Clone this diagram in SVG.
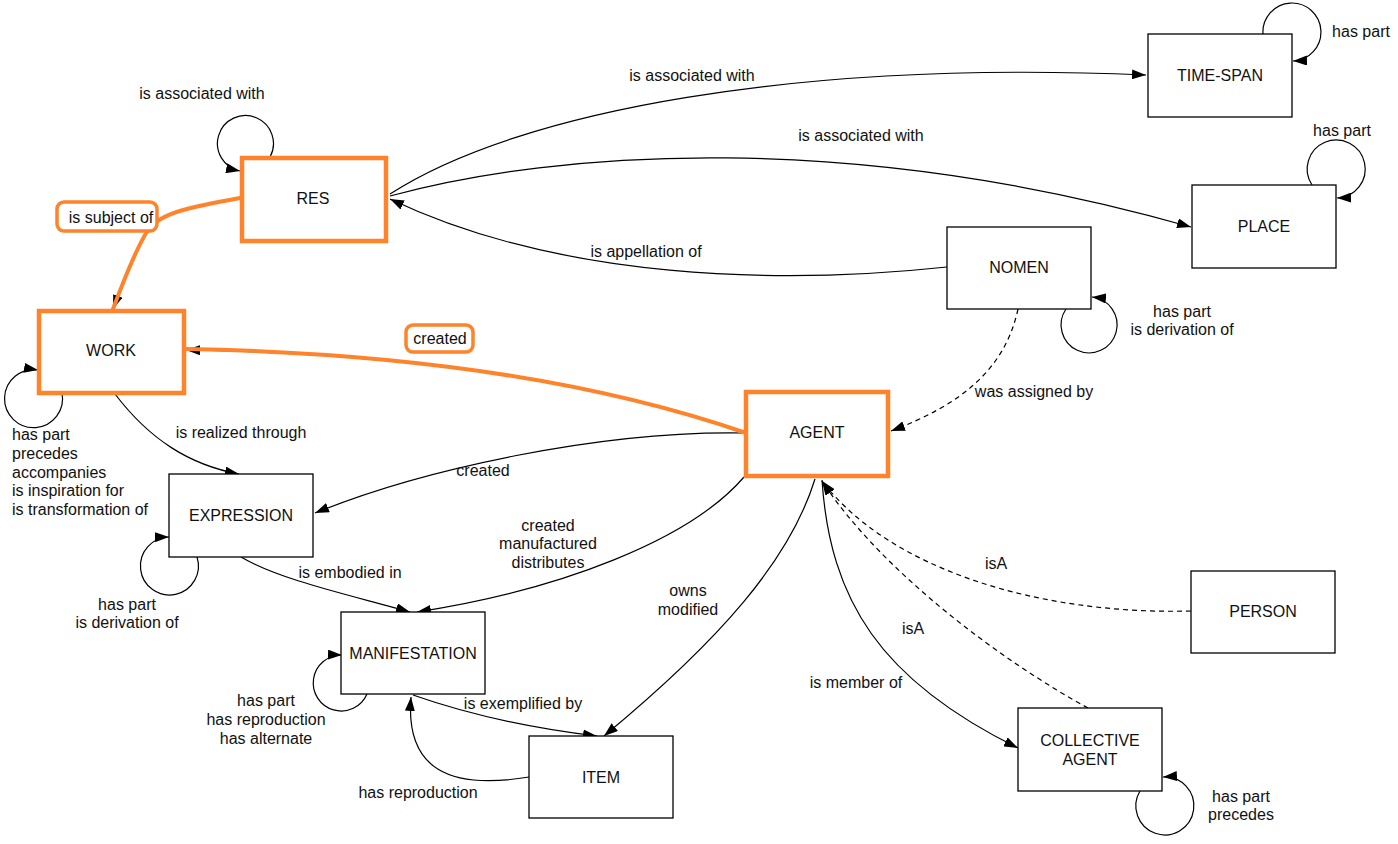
<svg xmlns="http://www.w3.org/2000/svg" width="1398" height="844" viewBox="0 0 1398 844">
<style>
text{font-family:"Liberation Sans",Arial,sans-serif;font-size:16px;fill:#111;text-anchor:middle}
.l{text-anchor:start}
.n{fill:#fff;stroke:#000;stroke-width:1.3}
.o{fill:#fff;stroke:#FF832A;stroke-width:4.5}
.e{fill:none;stroke:#000;stroke-width:1.2;marker-end:url(#arr)}
.d{stroke-dasharray:5,4}
.hl{fill:none;stroke:#FF832A;stroke-width:4;stroke-linecap:round}
.hb{fill:#fff;stroke:#FF832A;stroke-width:3.5}
</style>
<defs>
<marker id="arr" viewBox="0 0 14 10" refX="14" refY="5" markerWidth="14" markerHeight="10" orient="auto" markerUnits="userSpaceOnUse"><path d="M0,0 L14,5 L0,10 z" fill="#000"/></marker>
</defs>
<rect width="1398" height="844" fill="#fff"/>
<g id="connectors">
<path class="e" d="M390,194 C520,110 800,60 1146,75"/>
<path class="e" d="M390,196 C560,150 850,130 1191,227"/>
<path class="e" d="M947,267 C780,285 560,280 390,199"/>
<path class="e" d="M270,157 A28,28 0 1 0 240,171"/>
<path class="e" d="M240,198 C190,207 160,213 148,230 C135,250 122,285 113,309"/>
<path class="e" d="M746,433 Q520,355 186,350"/>
<path class="e" d="M62,393 A29,29 0 1 1 38,370"/>
<path class="e" d="M115,394 C150,440 190,465 239,474"/>
<path class="e" d="M746,433 C600,430 420,470 315,513"/>
<path class="e" d="M197,557 A29,29 0 1 1 169,537"/>
<path class="e" d="M241,557 C280,580 350,595 410,612"/>
<path class="e" d="M744,477 C690,540 560,590 417,612"/>
<path class="e" d="M815,479 C790,560 720,640 604,736"/>
<path class="e" d="M413,695 C470,715 530,728 597,736"/>
<path class="e" d="M529,777 C450,790 405,770 411,697"/>
<path class="e" d="M367,694 A28,28 0 1 1 342,655"/>
<path class="e" d="M1263,34 A29,29 0 1 1 1293,61"/>
<path class="e" d="M1312,185 A29,29 0 1 1 1337,198"/>
<path class="e" d="M1066,309 A28,28 0 1 0 1092,297"/>
<path class="e d" d="M1018,309 C1005,370 960,405 891,431"/>
<path class="e d" d="M1191,611 C1040,615 890,570 822,481"/>
<path class="e d" d="M1088,708 C1000,660 880,570 822,481"/>
<path class="e" d="M822,480 C830,600 880,680 1018,748"/>
<path class="e" d="M1140,791 A29,29 0 1 0 1163,777"/>
<path class="hl" d="M240,198 C190,207 160,213 148,230 C135,250 122,285 113,309"/>
<path class="hl" d="M746,433 Q520,355 186,349"/>
</g>
<g id="edge-labels">
<text x="202" y="99">is associated with</text>
<rect class="hb" x="57" y="202" width="100" height="29" rx="7"/>
<text x="111" y="223">is subject of</text>
<rect class="hb" x="406" y="325" width="67" height="27" rx="7"/>
<text x="440" y="344">created</text>
<text x="692" y="81">is associated with</text>
<text x="861" y="141">is associated with</text>
<text x="646" y="257">is appellation of</text>
<text x="1361" y="37">has part</text>
<text x="1342" y="136">has part</text>
<text x="1182" y="317">has part</text>
<text x="1182" y="335">is derivation of</text>
<text x="1034" y="397">was assigned by</text>
<text x="241" y="438">is realized through</text>
<text class="l" x="12" y="440">has part</text>
<text class="l" x="12" y="459">precedes</text>
<text class="l" x="12" y="478">accompanies</text>
<text class="l" x="12" y="496">is inspiration for</text>
<text class="l" x="12" y="515">is transformation of</text>
<text x="483" y="476">created</text>
<text x="127" y="610">has part</text>
<text x="127" y="628">is derivation of</text>
<text x="350" y="578">is embodied in</text>
<text x="548" y="531">created</text>
<text x="548" y="549">manufactured</text>
<text x="548" y="568">distributes</text>
<text x="688" y="596">owns</text>
<text x="688" y="615">modified</text>
<text x="523" y="709">is exemplified by</text>
<text x="418" y="798">has reproduction</text>
<text x="266" y="706">has part</text>
<text x="266" y="725">has reproduction</text>
<text x="266" y="744">has alternate</text>
<text x="996" y="569">isA</text>
<text x="913" y="634">isA</text>
<text x="856" y="688">is member of</text>
<text x="1241" y="802">has part</text>
<text x="1241" y="820">precedes</text>
</g>
<g id="node-timespan"><rect class="n" x="1148" y="34" width="144" height="83"/><text x="1220" y="81">TIME-SPAN</text></g>
<g id="node-place"><rect class="n" x="1192" y="185" width="144" height="83"/><text x="1264" y="232">PLACE</text></g>
<g id="node-nomen"><rect class="n" x="947" y="227" width="144" height="82"/><text x="1019" y="273">NOMEN</text></g>
<g id="node-res"><rect class="o" x="242" y="158" width="144" height="83"/><text x="313" y="204">RES</text></g>
<g id="node-work"><rect class="o" x="39" y="311" width="145" height="82"/><text x="111" y="356">WORK</text></g>
<g id="node-agent"><rect class="o" x="746" y="392" width="142" height="84"/><text x="817" y="438">AGENT</text></g>
<g id="node-expression"><rect class="n" x="169" y="474" width="144" height="83"/><text x="241" y="521">EXPRESSION</text></g>
<g id="node-manifestation"><rect class="n" x="341" y="612" width="144" height="82"/><text x="413" y="659">MANIFESTATION</text></g>
<g id="node-item"><rect class="n" x="529" y="736" width="144" height="82"/><text x="601" y="783">ITEM</text></g>
<g id="node-person"><rect class="n" x="1191" y="571" width="144" height="82"/><text x="1263" y="617">PERSON</text></g>
<g id="node-collective"><rect class="n" x="1018" y="708" width="144" height="83"/><text x="1090" y="746">COLLECTIVE</text><text x="1090" y="765">AGENT</text></g>
</svg>
